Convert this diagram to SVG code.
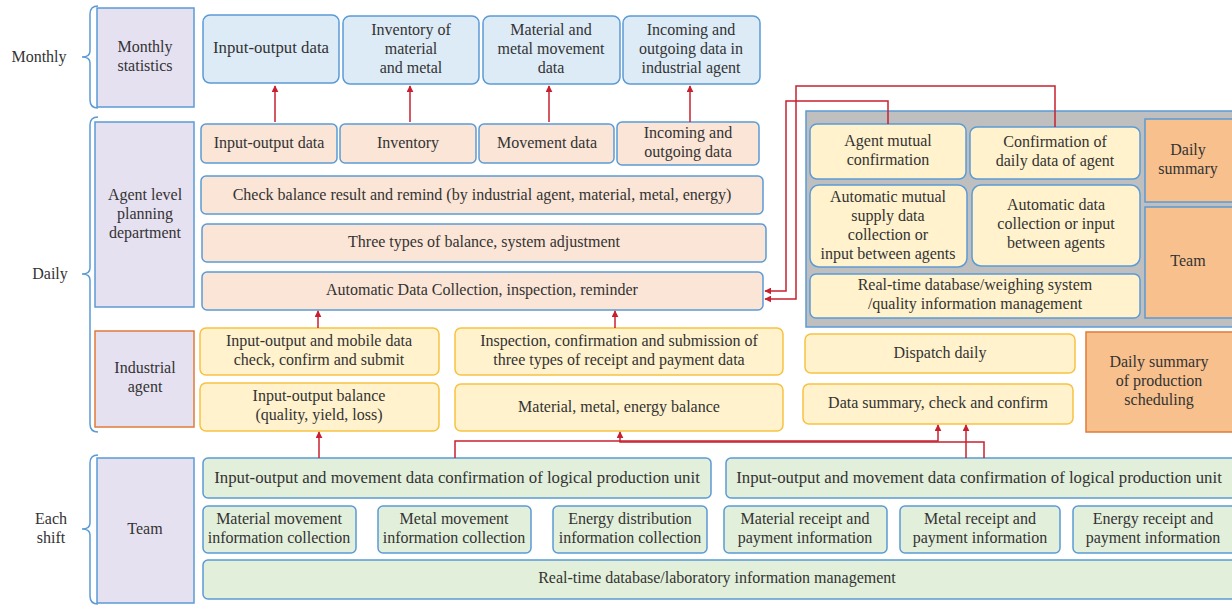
<svg xmlns="http://www.w3.org/2000/svg" width="1232" height="605" viewBox="0 0 1232 605">
  <style>
    text { font-family: "Liberation Serif", "DejaVu Serif", serif; font-size: 16px; fill: #333333; text-anchor: middle; }
    .big { font-size: 16.8px; }
    .brace { fill: none; stroke: #5b9bd5; stroke-width: 1.5; }
    .lav { fill: #e6e1f1; stroke: #5b9bd5; stroke-width: 1.5; }
    .lav-o { fill: #e6e1f1; stroke: #e07b39; stroke-width: 1.5; }
    .blue { fill: #ddebf7; stroke: #5b9bd5; stroke-width: 1.5; }
    .peach { fill: #fbe5d6; stroke: #5b9bd5; stroke-width: 1.5; }
    .yel { fill: #fff2cc; stroke: #f7c242; stroke-width: 1.5; }
    .yel-b { fill: #fff2cc; stroke: #5b9bd5; stroke-width: 1.5; }
    .green { fill: #e2efda; stroke: #5b9bd5; stroke-width: 1.5; }
    .gray { fill: #bfbfbf; stroke: #5b9bd5; stroke-width: 1.5; }
    .org { fill: #f8c08d; stroke: #5b9bd5; stroke-width: 1.5; }
    .org-o { fill: #f8c08d; stroke: #e07b39; stroke-width: 1.5; }
    .link { fill: none; stroke: #c8202f; stroke-width: 1.5; marker-end: url(#arrow); }
  </style>
  <defs>
    <marker id="arrow" viewBox="0 0 10 10" refX="9" refY="5" markerWidth="7" markerHeight="7" markerUnits="userSpaceOnUse" orient="auto">
      <path d="M0,0 L10,5 L0,10 z" fill="#c8202f"/>
    </marker>
  </defs>
  <rect width="1232" height="605" fill="#ffffff"/>

  <!-- time scale labels and braces -->
  <g id="scale-monthly">
    <text x="39" y="62">Monthly</text>
    <path class="brace" d="M98,6 Q90,6 90,14 L90,51 Q90,57 82,57 Q90,57 90,63 L90,100 Q90,108 98,108"/>
  </g>
  <g id="scale-daily">
    <text x="50" y="279">Daily</text>
    <path class="brace" d="M98,117 Q90,117 90,125 L90,268 Q90,274 82,274 Q90,274 90,280 L90,424 Q90,432 98,432"/>
  </g>
  <g id="scale-shift">
    <text x="51" y="524">Each</text>
    <text x="51" y="543">shift</text>
    <path class="brace" d="M98,455 Q90,455 90,463 L90,523 Q90,529 82,529 Q90,529 90,535 L90,596 Q90,604 98,604"/>
  </g>

  <!-- level headers -->
  <g id="monthly-statistics">
    <rect class="lav" x="97" y="8" width="97" height="99"/>
    <text x="145" y="52">Monthly</text>
    <text x="145" y="71">statistics</text>
  </g>
  <g id="planning-department">
    <rect class="lav" x="95" y="122" width="99" height="185"/>
    <text x="145" y="200">Agent level</text>
    <text x="145" y="219">planning</text>
    <text x="145" y="238">department</text>
  </g>
  <g id="industrial-agent">
    <rect class="lav-o" x="95" y="331" width="99" height="96"/>
    <text x="145" y="373">Industrial</text>
    <text x="145" y="392">agent</text>
  </g>
  <g id="team">
    <rect class="lav" x="97" y="458" width="97" height="145"/>
    <text x="145" y="534">Team</text>
  </g>

  <!-- monthly outputs -->
  <g id="m-input-output">
    <rect class="blue" x="203" y="15" width="136" height="68" rx="7"/>
    <text class="big" x="271" y="53">Input-output data</text>
  </g>
  <g id="m-inventory">
    <rect class="blue" x="343" y="16" width="136" height="68" rx="7"/>
    <text x="411" y="35">Inventory of</text>
    <text x="411" y="54">material</text>
    <text x="411" y="73">and metal</text>
  </g>
  <g id="m-movement">
    <rect class="blue" x="483" y="16" width="137" height="68" rx="7"/>
    <text x="551" y="35">Material and</text>
    <text x="551" y="54">metal movement</text>
    <text x="551" y="73">data</text>
  </g>
  <g id="m-incoming">
    <rect class="blue" x="623" y="16" width="137" height="68" rx="7"/>
    <text x="691" y="35">Incoming and</text>
    <text x="691" y="54">outgoing data in</text>
    <text x="691" y="73">industrial agent</text>
  </g>

  <!-- planning department rows -->
  <g id="d-input-output">
    <rect class="peach" x="201" y="124" width="136" height="39" rx="5"/>
    <text x="269" y="148">Input-output data</text>
  </g>
  <g id="d-inventory">
    <rect class="peach" x="340" y="124" width="136" height="39" rx="5"/>
    <text x="408" y="148">Inventory</text>
  </g>
  <g id="d-movement">
    <rect class="peach" x="479" y="124" width="135" height="39" rx="5"/>
    <text x="547" y="148">Movement data</text>
  </g>
  <g id="d-incoming">
    <rect class="peach" x="617" y="122" width="142" height="43" rx="5"/>
    <text x="688" y="138">Incoming and</text>
    <text x="688" y="157">outgoing data</text>
  </g>
  <g id="check-balance">
    <rect class="peach" x="201" y="176" width="562" height="38" rx="5"/>
    <text x="482" y="200">Check balance result and remind (by industrial agent, material, metal, energy)</text>
  </g>
  <g id="three-balance">
    <rect class="peach" x="202" y="224" width="564" height="38" rx="5"/>
    <text x="484" y="247">Three types of balance, system adjustment</text>
  </g>
  <g id="auto-collection">
    <rect class="peach" x="202" y="272" width="561" height="38" rx="5"/>
    <text x="482" y="295">Automatic Data Collection, inspection, reminder</text>
  </g>

  <!-- agent exchange panel -->
  <g id="agent-panel">
    <rect class="gray" x="806" y="111" width="430" height="216"/>
  </g>
  <g id="agent-mutual">
    <rect class="yel-b" x="810" y="124" width="156" height="55" rx="7"/>
    <text x="888" y="146">Agent mutual</text>
    <text x="888" y="165">confirmation</text>
  </g>
  <g id="agent-daily-confirm">
    <rect class="yel-b" x="970" y="127" width="170" height="52" rx="7"/>
    <text x="1055" y="147">Confirmation of</text>
    <text x="1055" y="166">daily data of agent</text>
  </g>
  <g id="auto-mutual-supply">
    <rect class="yel-b" x="810" y="185" width="157" height="82" rx="9"/>
    <text x="888" y="202">Automatic mutual</text>
    <text x="888" y="221">supply data</text>
    <text x="888" y="240">collection or</text>
    <text x="888" y="259">input between agents</text>
  </g>
  <g id="auto-data-input">
    <rect class="yel-b" x="972" y="185" width="168" height="81" rx="9"/>
    <text x="1056" y="210">Automatic data</text>
    <text x="1056" y="229">collection or input</text>
    <text x="1056" y="248">between agents</text>
  </g>
  <g id="weighing-system">
    <rect class="yel-b" x="810" y="274" width="330" height="44" rx="6"/>
    <text x="975" y="290">Real-time database/weighing system</text>
    <text x="975" y="309">/quality information management</text>
  </g>
  <g id="daily-summary">
    <rect class="org" x="1145" y="119" width="90" height="83"/>
    <text x="1188" y="155">Daily</text>
    <text x="1188" y="174">summary</text>
  </g>
  <g id="panel-team">
    <rect class="org" x="1145" y="207" width="90" height="111"/>
    <text x="1188" y="266">Team</text>
  </g>

  <!-- dispatch side -->
  <g id="dispatch-daily">
    <rect class="yel" x="805" y="334" width="270" height="39" rx="6"/>
    <text x="940" y="358">Dispatch daily</text>
  </g>
  <g id="data-summary">
    <rect class="yel" x="803" y="384" width="270" height="40" rx="6"/>
    <text x="938" y="408">Data summary, check and confirm</text>
  </g>
  <g id="production-summary">
    <rect class="org-o" x="1086" y="332" width="150" height="100"/>
    <text x="1159" y="367">Daily summary</text>
    <text x="1159" y="386">of production</text>
    <text x="1159" y="405">scheduling</text>
  </g>

  <!-- industrial agent rows -->
  <g id="mobile-data-check">
    <rect class="yel" x="200" y="328" width="239" height="47" rx="6"/>
    <text x="319" y="346">Input-output and mobile data</text>
    <text x="319" y="365">check, confirm and submit</text>
  </g>
  <g id="input-output-balance">
    <rect class="yel" x="200" y="383" width="239" height="48" rx="6"/>
    <text x="319" y="401">Input-output balance</text>
    <text x="319" y="420">(quality, yield, loss)</text>
  </g>
  <g id="receipt-payment-check">
    <rect class="yel" x="455" y="328" width="328" height="47" rx="6"/>
    <text x="619" y="346">Inspection, confirmation and submission of</text>
    <text x="619" y="365">three types of receipt and payment data</text>
  </g>
  <g id="mme-balance">
    <rect class="yel" x="455" y="384" width="328" height="47" rx="6"/>
    <text x="619" y="412">Material, metal, energy balance</text>
  </g>

  <!-- team rows -->
  <g id="unit-confirm-left">
    <rect class="green" x="203" y="458" width="508" height="40" rx="5"/>
    <text class="big" x="457" y="483">Input-output and movement data confirmation of logical production unit</text>
  </g>
  <g id="unit-confirm-right">
    <rect class="green" x="726" y="458" width="510" height="40" rx="5"/>
    <text class="big" x="979" y="483">Input-output and movement data confirmation of logical production unit</text>
  </g>
  <g id="material-movement">
    <rect class="green" x="203" y="506" width="153" height="47" rx="5"/>
    <text x="279" y="524">Material movement</text>
    <text x="279" y="543">information collection</text>
  </g>
  <g id="metal-movement">
    <rect class="green" x="378" y="506" width="153" height="47" rx="5"/>
    <text x="454" y="524">Metal movement</text>
    <text x="454" y="543">information collection</text>
  </g>
  <g id="energy-distribution">
    <rect class="green" x="553" y="506" width="154" height="47" rx="5"/>
    <text x="630" y="524">Energy distribution</text>
    <text x="630" y="543">information collection</text>
  </g>
  <g id="material-receipt">
    <rect class="green" x="724" y="506" width="163" height="47" rx="5"/>
    <text x="805" y="524">Material receipt and</text>
    <text x="805" y="543">payment information</text>
  </g>
  <g id="metal-receipt">
    <rect class="green" x="900" y="506" width="160" height="47" rx="5"/>
    <text x="980" y="524">Metal receipt and</text>
    <text x="980" y="543">payment information</text>
  </g>
  <g id="energy-receipt">
    <rect class="green" x="1073" y="506" width="163" height="47" rx="5"/>
    <text x="1153" y="524">Energy receipt and</text>
    <text x="1153" y="543">payment information</text>
  </g>
  <g id="lab-database">
    <rect class="green" x="203" y="560" width="1033" height="39" rx="5"/>
    <text x="717" y="583">Real-time database/laboratory information management</text>
  </g>

  <!-- connectors -->
  <g id="connectors">
    <path class="link" d="M275,122 L275,86"/>
    <path class="link" d="M410,122 L410,86"/>
    <path class="link" d="M549,122 L549,86"/>
    <path class="link" d="M690,122 L690,86"/>
    <path class="link" d="M888,124 L888,101 L786,101 L786,291 L765,291"/>
    <path class="link" d="M1055,127 L1055,86 L796,86 L796,299 L765,299"/>
    <path class="link" d="M318,328 L318,311"/>
    <path class="link" d="M615,328 L615,311"/>
    <path class="link" d="M319,458 L319,432"/>
    <path class="link" d="M455,458 L455,441 L938,441 L938,425"/>
    <path class="link" d="M984,458 L984,442 L620,442 L620,432"/>
    <path class="link" d="M966,458 L966,425"/>
  </g>
</svg>
